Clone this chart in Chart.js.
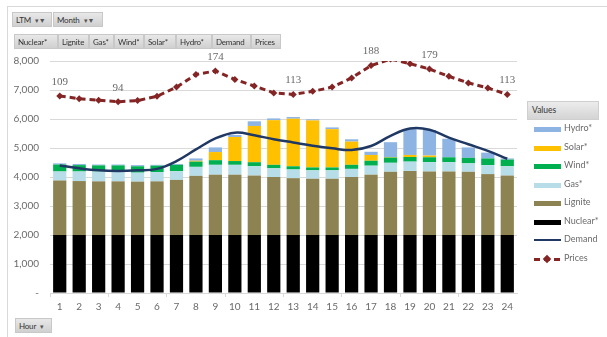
<!DOCTYPE html>
<html>
<head>
<meta charset="utf-8">
<script src="https://cdn.jsdelivr.net/npm/chart.js@4"></script>
<style>
  body { margin:0; background:#fff; font-family:'Lato','Noto Sans',sans-serif; }
  #wrap { position:relative; width:607px; height:337px; overflow:hidden; }
  #frame { position:absolute; left:7px; top:6px; right:-2px; bottom:-2px; border:1px solid #d9d9d9; }
  canvas { position:absolute; left:0; top:0; }
  .btn { position:absolute; height:15px; line-height:15px; font-size:8px; color:#333; padding:0 3px;
         background:linear-gradient(#e8e8e8,#d0d0d0); border:1px solid #c8c8c8; box-sizing:border-box;
         white-space:nowrap; overflow:hidden; letter-spacing:-0.2px; }
  .btn .f { font-size:7px; color:#555; margin-left:4px; }
  #legend { position:absolute; left:527px; top:101px; width:72px; font-size:9px; color:#6a6a6a; }
  #legend .head { height:17px; line-height:17px; padding-left:4px; color:#333; font-size:8.5px;
         background:linear-gradient(#ececec,#d4d4d4); border:1px solid #cfcfcf; }
  #legend .row { position:relative; height:18.5px; }
  #legend .sw { position:absolute; left:7px; top:7px; width:27px; height:5px; }
  #legend .lbl { position:absolute; left:37px; top:2px; }
</style>
</head>
<body>
<div id="wrap">
  <div id="frame"></div>
  <canvas id="myChart" width="607" height="337"></canvas>
  <div class="btn" style="left:12px;top:12px;width:40px">LTM<span class="f">&#9662;&#9660;</span></div>
  <div class="btn" style="left:53px;top:12px;width:50px">Month<span class="f">&#9662;&#9660;</span></div>
  <div class="btn" style="left:14px;top:34px;width:44px">Nuclear*</div>
  <div class="btn" style="left:58px;top:34px;width:31px">Lignite</div>
  <div class="btn" style="left:89px;top:34px;width:25px">Gas*</div>
  <div class="btn" style="left:114px;top:34px;width:30px">Wind*</div>
  <div class="btn" style="left:144px;top:34px;width:32px">Solar*</div>
  <div class="btn" style="left:176px;top:34px;width:36px">Hydro*</div>
  <div class="btn" style="left:212px;top:34px;width:39px">Demand</div>
  <div class="btn" style="left:251px;top:34px;width:30px">Prices</div>
  <div class="btn" style="left:15px;top:318px;width:37px">Hour<span class="f">&#9662;</span></div>
  <div id="legend"></div>
</div>
<script>
// hours
var hours = ['1','2','3','4','5','6','7','8','9','10','11','12','13','14','15','16','17','18','19','20','21','22','23','24']

// generation by source (MW)
var nuclear = [2000,2000,2000,2000,2000,2000,2000,2000,2000,2000,2000,2000,2000,2000,2000,2000,2000,2000,2000,2000,2000,2000,2000,2000]
var lignite = [1880,1860,1850,1850,1840,1850,1900,2040,2080,2080,2050,2000,1960,1940,1940,2000,2080,2180,2210,2190,2190,2180,2100,2050]
var gas     = [310,330,340,340,310,320,300,310,340,340,320,300,300,290,290,280,310,310,320,320,320,290,310,320]
var wind    = [240,220,210,210,220,220,220,180,160,130,140,120,110,100,100,140,170,180,160,170,170,190,230,230]
var solar   = [0,0,0,0,0,0,0,30,280,830,1250,1540,1640,1620,1320,800,200,20,70,60,0,0,0,0]
var hydro   = [40,40,30,30,40,30,30,80,160,70,160,60,60,40,60,80,110,510,890,880,640,360,200,40]

var demand  = [4400,4300,4230,4210,4230,4280,4550,4950,5330,5530,5440,5300,5190,5080,4990,4930,5070,5420,5670,5630,5360,5130,4900,4630]
var prices  = [109,102,98,94,97,108,132,165,174,152,135,117,113,121,132,156,188,205,193,179,160,143,130,113]
var priceLabelIdx = [0,3,8,12,16,19,23]

var yTicks = [0,1000,2000,3000,4000,5000,6000,7000,8000]

var gray = '#6a6a6a'

var bar = function(label, data, color) {
  return { type:'bar', label:label, data:data, backgroundColor:color, borderWidth:0,
           stack:'gen', yAxisID:'y', order:1, categoryPercentage:1, barPercentage:0.68 }
}

var datasets = [
  bar('Nuclear*', nuclear, '#000000'),
  bar('Lignite', lignite, '#8d8352'),
  bar('Gas*', gas, '#b7dee8'),
  bar('Wind*', wind, '#00b050'),
  bar('Solar*', solar, '#ffc000'),
  bar('Hydro*', hydro, '#8db4e2'),
  { type:'line', label:'Demand', data:demand, borderColor:'#203864', borderWidth:2.5,
    pointRadius:0, tension:0.4, yAxisID:'y', order:0 },
  { type:'line', label:'Prices', data:prices, borderColor:'#842424', backgroundColor:'#842424',
    borderWidth:3, borderDash:[6,4], pointStyle:'rectRot', pointRadius:3.5, pointBorderWidth:0,
    tension:0, yAxisID:'y2', order:0, clip:0 }
]

// price labels above selected points
var priceLabels = {
  id:'priceLabels',
  afterDatasetsDraw: function(chart) {
    var meta = chart.getDatasetMeta(7)
    var c = chart.ctx
    c.save()
    c.font = '11px "Liberation Serif", serif'
    c.fillStyle = gray
    c.textAlign = 'center'
    c.textBaseline = 'middle'
    priceLabelIdx.forEach(function(i) {
      var p = meta.data[i]
      c.fillText(String(prices[i]), p.x, p.y - 14)
    })
    c.restore()
  }
}

var ctx = document.getElementById('myChart').getContext('2d')
new Chart(ctx, {
  data: { labels: hours, datasets: datasets },
  plugins: [priceLabels],
  options: {
    responsive:false,
    animation:false,
    layout: { padding: { left:0, top:61, right:90, bottom:20 } },
    plugins: { legend:{ display:false }, tooltip:{ enabled:false } },
    scales: {
      x: {
        stacked:true,
        grid: {
          drawOnChartArea:false, drawTicks:true, tickLength:4,
          color: function(c) { return c.index % 3 === 0 ? '#d9d9d9' : 'rgba(0,0,0,0)' }
        },
        border: { color:'#d9d9d9' },
        ticks: { color:gray, font:{ size:10, family:'Lato' }, padding:4, maxRotation:0, autoSkip:false },
        afterFit: function(s) { s.height = 24 }
      },
      y: {
        stacked:true, min:0, max:8000,
        afterBuildTicks: function(s) { s.ticks = yTicks.map(function(v) { return { value:v } }) },
        grid: { color:'#d9d9d9', drawTicks:false },
        border: { display:false },
        ticks: {
          color:gray, font:{ size:10, family:'Lato' }, padding:11,
          callback: function(v) { return v === 0 ? '-' : v.toLocaleString('en-US') }
        },
        afterFit: function(s) { s.width = 50 }
      },
      y2: { display:false, min:-404, max:200 }
    }
  }
})

// legend, Excel order
var legendOrder = [5,4,3,2,1,0,6,7]
var lg = document.getElementById('legend')
var html = '<div class="head">Values</div>'
legendOrder.forEach(function(i) {
  var d = datasets[i]
  var sw
  if (d.type === 'bar') {
    sw = '<div class="sw" style="background:' + d.backgroundColor + '"></div>'
  } else if (d.label === 'Demand') {
    sw = '<div class="sw" style="top:8px;height:2px;background:' + d.borderColor + '"></div>'
  } else {
    sw = '<div class="sw" style="top:8px;height:3px;background:repeating-linear-gradient(90deg,' + d.borderColor + ' 0 6px,transparent 6px 10px)"></div>' +
         '<div style="position:absolute;left:17px;top:6px;width:6px;height:6px;background:' + d.borderColor + ';transform:rotate(45deg)"></div>'
  }
  html += '<div class="row">' + sw + '<div class="lbl">' + d.label + '</div></div>'
})
lg.innerHTML = html
</script>
</body>
</html>
